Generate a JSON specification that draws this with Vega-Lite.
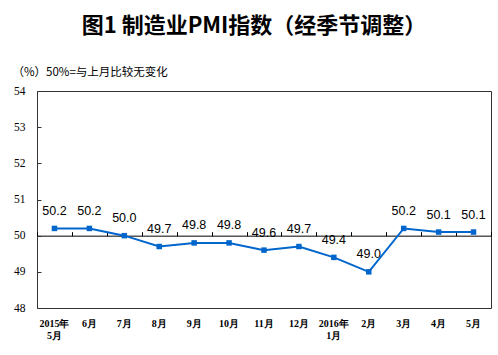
{
  "$schema": "https://vega.github.io/schema/vega-lite/v6.json",
  "autosize": "none",
  "width": 454,
  "height": 217,
  "padding": {"left": 37, "top": 91, "right": 7, "bottom": 47},
  "background": "white",
  "title": {
    "text": "图1 制造业PMI指数（经季节调整）",
    "font": "Noto Sans CJK SC",
    "fontSize": 22,
    "fontWeight": "bold",
    "color": "black",
    "anchor": "middle",
    "frame": "group",
    "dx": -10,
    "offset": 28
  },
  "config": {
    "view": {"stroke": "#333333", "strokeWidth": 1},
    "axis": {"grid": false},
    "axisY": {"labelOverlap": false, "labelFlush": false}
  },
  "data": {
    "values": [
      {"month": "2015年5月", "pmi": 50.2},
      {"month": "6月", "pmi": 50.2},
      {"month": "7月", "pmi": 50.0},
      {"month": "8月", "pmi": 49.7},
      {"month": "9月", "pmi": 49.8},
      {"month": "10月", "pmi": 49.8},
      {"month": "11月", "pmi": 49.6},
      {"month": "12月", "pmi": 49.7},
      {"month": "2016年1月", "pmi": 49.4},
      {"month": "2月", "pmi": 49.0},
      {"month": "3月", "pmi": 50.2},
      {"month": "4月", "pmi": 50.1},
      {"month": "5月", "pmi": 50.1}
    ]
  },
  "encoding": {
    "y": {
      "field": "pmi", "type": "quantitative",
      "scale": {"domain": [48, 54], "nice": false, "zero": false},
      "axis": {
        "values": [48, 49, 50, 51, 52, 53, 54],
        "tickCount": 7,
        "labelOverlap": false, "labelFlush": false,
        "domain": false, "tickSize": -4, "tickColor": "#333333",
        "labelFont": "Liberation Serif", "labelFontSize": 11.5, "labelColor": "black",
        "labelPadding": 16,
        "title": "（%）50%=与上月比较无变化",
        "titleAngle": 0, "titleAlign": "left", "titleBaseline": "middle",
        "titleX": -25, "titleY": -19,
        "titleFont": "Noto Sans CJK SC", "titleFontSize": 11.5, "titleFontWeight": "normal",
        "titleColor": "black"
      }
    }
  },
  "resolve": {"axis": {"x": "independent"}},
  "layer": [
    {
      "mark": {"type": "line", "color": "#0066CC", "strokeWidth": 2},
      "encoding": {
        "x": {
          "field": "month", "type": "nominal", "sort": null,
          "scale": {"paddingInner": 0, "paddingOuter": 0},
          "axis": {
            "orient": "bottom", "title": null, "domain": false, "ticks": false,
            "labelAngle": 0, "labelFont": "Liberation Serif", "labelFontSize": 10,
            "labelFontWeight": "bold", "labelColor": "black", "labelPadding": 10,
            "labelLineHeight": 12,
            "labelExpr": "indexof(datum.value,'年')>0 ? [slice(datum.value,0,5), slice(datum.value,5)] : datum.value"
          }
        }
      }
    },
    {
      "mark": {"type": "point", "shape": "square", "filled": true, "size": 30, "color": "#0066CC", "opacity": 1},
      "encoding": {
        "x": {"field": "month", "type": "nominal", "sort": null,
          "axis": {
            "orient": "top", "offset": -144.67, "labels": false, "title": null,
            "domain": true, "domainColor": "black", "domainWidth": 1,
            "ticks": true, "tickSize": 4, "tickColor": "black", "tickBand": "extent"
          }
        }
      }
    },
    {
      "mark": {"type": "text", "font": "Liberation Sans", "fontSize": 12.5, "color": "black", "dy": -17.5, "baseline": "middle"},
      "encoding": {
        "x": {"field": "month", "type": "nominal", "sort": null, "axis": null},
        "text": {"field": "pmi", "type": "quantitative", "format": ".1f"}
      }
    }
  ]
}
